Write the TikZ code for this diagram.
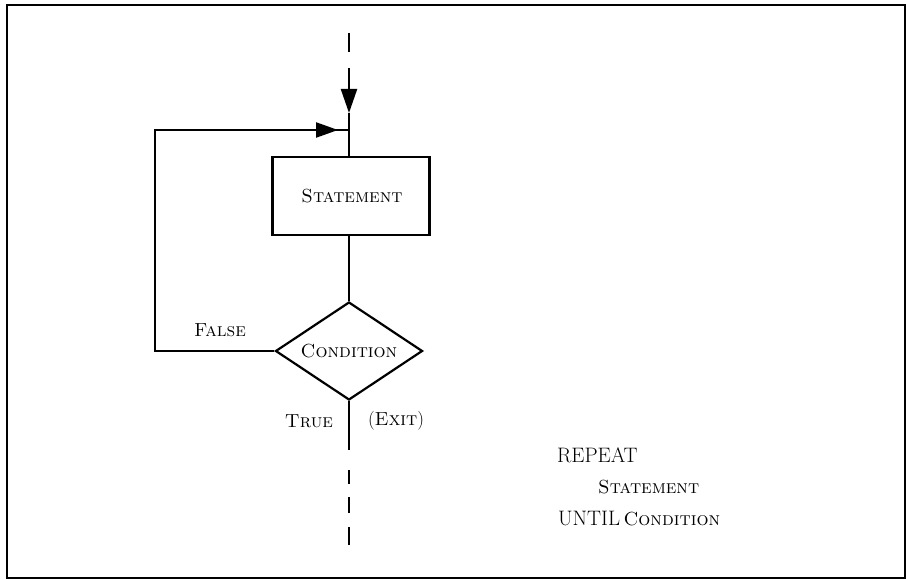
\documentclass[tikz,border=0pt]{standalone}
\usetikzlibrary{arrows.meta,shapes.geometric}
\begin{document}
\begin{tikzpicture}[x=1bp,y=-1bp,
  line/.style={line width=2.2bp},
  vtip/.style={-{Triangle[length=24bp,width=16bp]}},
  htip/.style={-{Triangle[length=22bp,width=15bp]}},
  big/.style={font=\fontsize{19}{22}\selectfont},
  lbl/.style={big, inner sep=0pt},
  code/.style={font=\fontsize{21}{24}\selectfont, inner sep=0pt, anchor=base west},
  stmtbox/.style={draw, line width=2.2bp, minimum width=157bp, minimum height=78bp, inner sep=0pt},
  decision/.style={draw, diamond, line width=2.2bp, minimum width=147bp, minimum height=98bp, inner sep=0pt, aspect=1.5}]
\useasboundingbox (0,0) rectangle (907,580);
\draw[line width=2bp] (7,5) rectangle (905,578);
% nodes
\node[stmtbox] (stmt) at (351,196) {};
\node[lbl] (stmttxt) at (352,196) {\textsc{Statement}};
\node[decision] (cond) at (349,351) {};
\node[lbl] (condtxt) at (349,351) {\textsc{Condition}};
% coordinates
\coordinate (d0) at (349,33);
\coordinate (d1) at (349,52);
\coordinate (a0) at (349,68);
\coordinate (a1) at (349,113);
\coordinate (j) at (349,130);
\coordinate (h1) at (338,130);
\coordinate (s0) at (349,157);
\coordinate (l0) at (155,351);
\coordinate (l1) at (155,130);
\coordinate (b0) at (349,450);
\coordinate (e0) at (349,470);
\coordinate (e1) at (349,484);
\coordinate (f0) at (349,497);
\coordinate (f1) at (349,513);
\coordinate (g0) at (349,527);
\coordinate (g1) at (349,545);
% connectors
\draw[line] (d0) -- (d1);
\draw[line,vtip] (a0) -- (a1);
\draw[line] (a1) -- (s0);
\draw[line] (stmt.south -| cond.north) -- (cond.north);
\draw[line] (cond.west) -- (l0) -- (l1) -- (j);
\draw[line,htip] (l1) -- (h1);
\draw[line] (cond.south) -- (b0);
\draw[line] (e0) -- (e1);
\draw[line] (f0) -- (f1);
\draw[line] (g0) -- (g1);
% labels
\node[lbl] (false) at (220,330) {\textsc{False}};
\node[lbl] (true) at (309,421) {\textsc{True}};
\node[lbl] (exit) at (396,421) {(\textsc{Exit})};
\node[code] (rep) at (557,462) {REPEAT};
\node[code] (st) at (598,493) {\fontsize{19}{22}\selectfont\textsc{Statement}};
\node[code] (unt) at (558,525) {UNTIL\,\fontsize{19}{22}\selectfont\textsc{Condition}};
\end{tikzpicture}
\end{document}
